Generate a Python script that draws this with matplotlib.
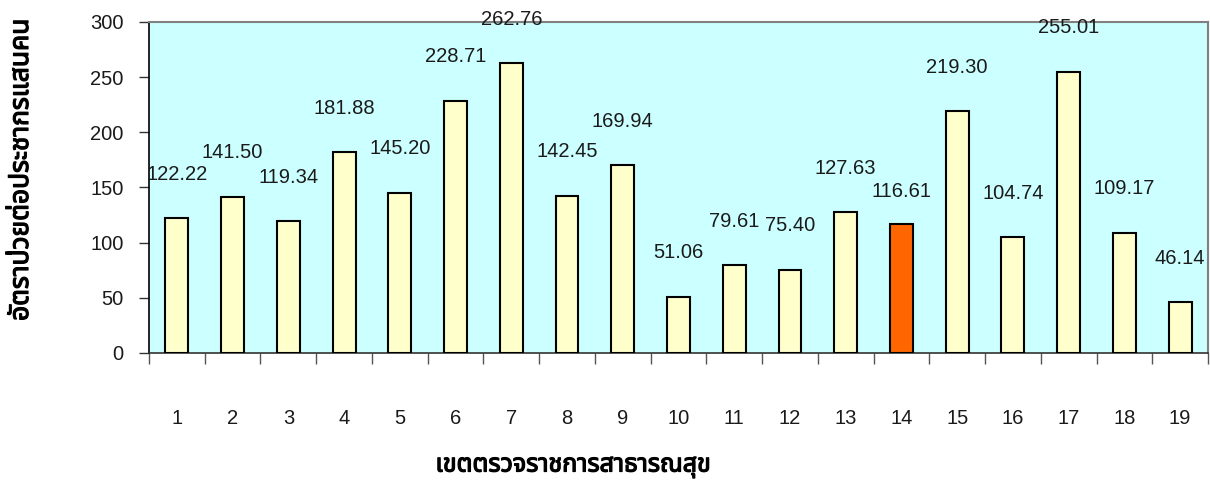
import matplotlib
matplotlib.use('Agg')
import matplotlib.pyplot as plt
import matplotlib.patheffects as pe
from matplotlib import font_manager
from matplotlib.ticker import FixedLocator, NullFormatter

# ---------------- data ----------------
regions = [str(i) for i in range(1, 20)]
rates = [122.22, 141.50, 119.34, 181.88, 145.20, 228.71, 262.76, 142.45, 169.94,
         51.06, 79.61, 75.40, 127.63, 116.61, 219.30, 104.74, 255.01, 109.17, 46.14]
highlight_region = '14'
y_ticks = [0, 50, 100, 150, 200, 250, 300]
x_title = 'เขตตรวจราชการสาธารณสุข'
y_title = 'อัตราป่วยต่อประชากรแสนคน'


def find_thai_font():
    try:
        from fontTools.ttLib import TTFont
    except Exception:
        return None
    found = []
    for f in font_manager.fontManager.ttflist:
        try:
            tt = TTFont(f.fname, fontNumber=0, lazy=True)
            cmap = tt.getBestCmap()
            if cmap and 0x0E2D in cmap and 0x0E40 in cmap:
                found.append(f.name)
        except Exception:
            continue
    if not found:
        return None
    for pref in ['Noto Sans Thai', 'Noto Sans Thai UI', 'Loma', 'Garuda', 'Tlwg Typo',
                 'Noto Sans', 'DejaVu Sans']:
        if pref in found:
            return pref
    return found[0]


thai_font = find_thai_font()
thai_family = ([thai_font] if thai_font else []) + ['Noto Sans', 'DejaVu Sans']
num_family = ['Liberation Sans', 'DejaVu Sans']

# ---------------- styling ----------------
plot_bg = '#CCFFFF'
bar_fill = '#FFFFCC'
bar_hl = '#FF6600'
border_gray = '#808080'

fig = plt.figure(figsize=(12.1, 4.84), dpi=100)
ax = fig.add_axes([149 / 1210, 1 - 353 / 484, (1208 - 149) / 1210, (353 - 22) / 484])
ax.set_facecolor(plot_bg)

x = list(range(1, len(regions) + 1))
colors = [bar_hl if r == highlight_region else bar_fill for r in regions]
ax.bar(x, rates, width=0.41, color=colors, edgecolor='black', linewidth=1.5, zorder=3)

ax.set_xlim(0.5, len(regions) + 0.5)
ax.set_ylim(0, 300)

# label offsets (pixels above bar top, converted to points)
label_offsets_px = [33 if r == highlight_region else 44 for r in regions]
for xi, v, off in zip(x, rates, label_offsets_px):
    ax.annotate(f'{v:.2f}', xy=(xi, v), xytext=(0, off * 0.72),
                textcoords='offset points', ha='center', va='center',
                fontsize=14.5, family=num_family, color='#1a1a1a',
                annotation_clip=False, zorder=5)

# spines
for s in ['top', 'right']:
    ax.spines[s].set_color(border_gray)
    ax.spines[s].set_linewidth(1.5)
ax.spines['left'].set_color('black')
ax.spines['left'].set_linewidth(1.2)
ax.spines['bottom'].set_color('#333333')
ax.spines['bottom'].set_linewidth(1.2)

# y ticks
ax.set_yticks(y_ticks)
ax.set_yticklabels([str(t) for t in y_ticks], family=num_family, fontsize=14.5)
ax.tick_params(axis='y', direction='out', length=7.2, width=1, color='#333333',
               pad=11, labelcolor='#1a1a1a')

# x ticks: labels at centers, tick marks at category boundaries
ax.set_xticks(x)
ax.set_xticklabels(regions, family=num_family, fontsize=14.5)
ax.tick_params(axis='x', which='major', length=0, pad=40, labelcolor='#1a1a1a')
ax.xaxis.set_minor_locator(FixedLocator([i + 0.5 for i in range(0, len(regions) + 1)]))
ax.xaxis.set_minor_formatter(NullFormatter())
ax.tick_params(axis='x', which='minor', direction='out', length=8, width=1, color='#555555')

# titles (stroke to emulate heavy bold Thai face)
bold_fx = [pe.withStroke(linewidth=0.9, foreground='black')]
fig.text(573 / 1210, 1 - 466 / 484, x_title, ha='center', va='center',
         fontsize=18, fontweight='bold', family=thai_family, color='black',
         path_effects=bold_fx)
fig.text(21 / 1210, 1 - 170 / 484, y_title, ha='center', va='center', rotation=90,
         fontsize=19, fontweight='bold', family=thai_family, color='black',
         path_effects=bold_fx)

fig.savefig('out.png', dpi=100)
